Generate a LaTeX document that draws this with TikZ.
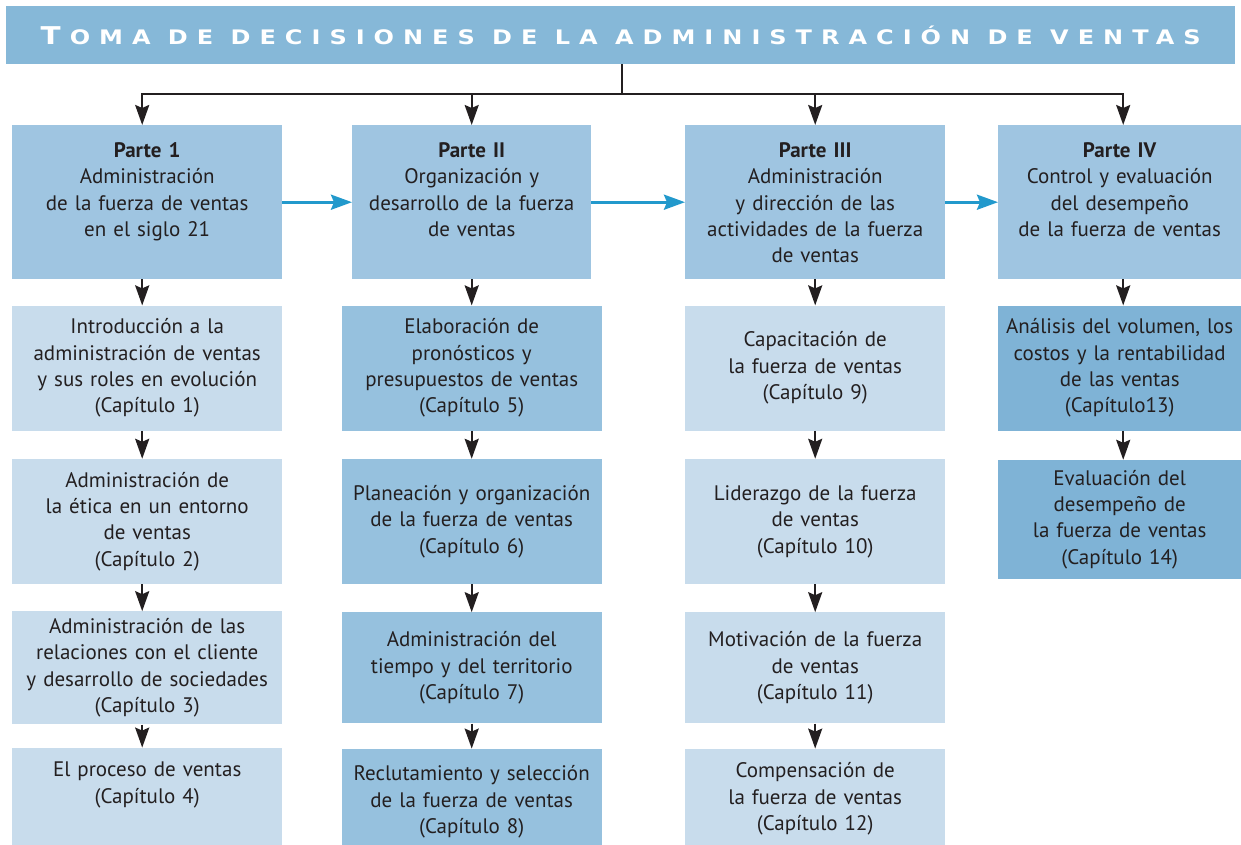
\documentclass[tikz,border=0pt]{standalone}
\usepackage{fontspec}
\setmainfont{PT Sans}
\newfontfamily\titlefont[LetterSpace=45,FakeStretch=1.2]{DejaVu Sans}
\usetikzlibrary{arrows.meta,positioning}
\definecolor{titlebg}{HTML}{86B8D8}
\definecolor{partebg}{HTML}{9FC5E1}
\definecolor{lightbg}{HTML}{C8DCEC}
\definecolor{midbg}{HTML}{96C1DE}
\definecolor{darkbg}{HTML}{7FB3D6}
\definecolor{linkblue}{HTML}{2299CC}
\definecolor{ink}{HTML}{231F20}
\tikzset{
  titlebar/.style={
    rectangle, fill=titlebg, text=white,
    minimum width=1229pt, minimum height=58pt,
    inner sep=0pt, anchor=north west,
  },
  parte/.style={
    rectangle, fill=partebg, text=ink,
    inner sep=0pt, align=center,
    text height=32pt, text depth=122pt,
  },
  chap/.style={
    rectangle, text=ink, inner sep=0pt, align=center,
  },
  lastchap/.style={
    chap, text height=29pt, text depth=100pt,
  },
  wire/.style={
    draw=ink, line width=2.3pt,
  },
  line/.style={
    wire, -{Stealth[length=20pt,width=14pt,inset=3pt]},
  },
  link/.style={
    draw=linkblue, line width=3pt, -{Stealth[length=21pt,width=15pt,inset=3pt]},
  }
}
\begin{document}
\begin{tikzpicture}[x=1pt,y=-1pt,font=\fontsize{21}{26.4}\selectfont]
\clip (0,0) rectangle (1241,845);
\node [titlebar] (title) at (6,6) {\titlefont\bfseries\fontsize{24.5}{24.5}\selectfont T\kern9pt\fontsize{20}{20}\selectfont OMA DE DECISIONES DE LA ADMINISTRACIÓN DE VENTAS};
% partes
\node [parte, text width=270pt, anchor=north west] (p1) at (12,125) {\textbf{Parte 1}\\Administración\\de la fuerza de ventas\\en el siglo 21};
\node [parte, text width=239pt, anchor=north west] (p2) at (352,125) {\textbf{Parte II}\\Organización y\\desarrollo de la fuerza\\de ventas};
\node [parte, text width=260pt, anchor=north west] (p3) at (685,125) {\textbf{Parte III}\\Administración\\y dirección de las\\actividades de la fuerza\\de ventas};
\node [parte, text width=243pt, anchor=north west] (p4) at (998,125) {\textbf{Parte IV}\\Control y evaluación\\del desempeño\\de la fuerza de ventas};
% capitulos, columna 1
\node [chap, fill=lightbg, text width=270pt, minimum height=125pt, below=26pt of p1] (c1) {Introducción a la\\administración de ventas\\y sus roles en evolución\\(Capítulo 1)};
\node [chap, fill=lightbg, text width=270pt, minimum height=125pt, below=28pt of c1] (c2) {Administración de\\la ética en un entorno\\de ventas\\(Capítulo 2)};
\node [chap, fill=lightbg, text width=270pt, minimum height=113pt, below=27pt of c2] (c3) {Administración de las\\relaciones con el cliente\\y desarrollo de sociedades\\(Capítulo 3)};
\node [lastchap, fill=lightbg, text width=270pt, below=23pt of c3] (c4) {El proceso de ventas\\(Capítulo 4)};
% columna 2
\node [chap, fill=midbg, text width=260pt, minimum height=125pt, below=26pt of p2] (c5) {Elaboración de\\pronósticos y\\presupuestos de ventas\\(Capítulo 5)};
\node [chap, fill=midbg, text width=260pt, minimum height=125pt, below=28pt of c5] (c6) {Planeación y organización\\de la fuerza de ventas\\(Capítulo 6)};
\node [chap, fill=midbg, text width=260pt, minimum height=111pt, below=28pt of c6] (c7) {Administración del\\tiempo y del territorio\\(Capítulo 7)};
\node [lastchap, fill=midbg, text width=260pt, text height=32pt, below=25pt of c7] (c8) {Reclutamiento y selección\\de la fuerza de ventas\\(Capítulo 8)};
% columna 3
\node [chap, fill=lightbg, text width=260pt, minimum height=125pt, below=26pt of p3] (c9) {Capacitación de\\la fuerza de ventas\\(Capítulo 9)};
\node [chap, fill=lightbg, text width=260pt, minimum height=125pt, below=28pt of c9] (c10) {Liderazgo de la fuerza\\de ventas\\(Capítulo 10)};
\node [chap, fill=lightbg, text width=260pt, minimum height=111pt, below=28pt of c10] (c11) {Motivación de la fuerza\\de ventas\\(Capítulo 11)};
\node [lastchap, fill=lightbg, text width=260pt, below=25pt of c11] (c12) {Compensación de\\la fuerza de ventas\\(Capítulo 12)};
% columna 4
\node [chap, fill=darkbg, text width=243pt, minimum height=125pt, below=26pt of p4] (c13) {Análisis del volumen, los\\costos y la rentabilidad\\de las ventas\\(Capítulo13)};
\node [chap, fill=darkbg, text width=243pt, minimum height=119pt, below=29pt of c13] (c14) {Evaluación del\\desempeño de\\la fuerza de ventas\\(Capítulo 14)};
% conectores
\coordinate (hub) at (622,94);
\path [wire] (title.south -| hub) -- (hub);
\foreach \p/\dx in {p1/-5,p2/0,p3/0,p4/3.5}
  \path [line] (hub) -| ([xshift=\dx pt]\p.north);
\foreach \a/\b/\dx in {p1/c1/-5,c1/c2/-5,c2/c3/-5,c3/c4/-5,
    p2/c5/0,c5/c6/0,c6/c7/0,c7/c8/0,
    p3/c9/0,c9/c10/0,c10/c11/0,c11/c12/0,
    p4/c13/3.5,c13/c14/3.5}
  \path [line] ([xshift=\dx pt]\a.south) -- ([xshift=\dx pt]\b.north);
\path [link] (p1) -- (p2);
\path [link] (p2) -- (p3);
\path [link] (p3) -- (p4);
\end{tikzpicture}
\end{document}
